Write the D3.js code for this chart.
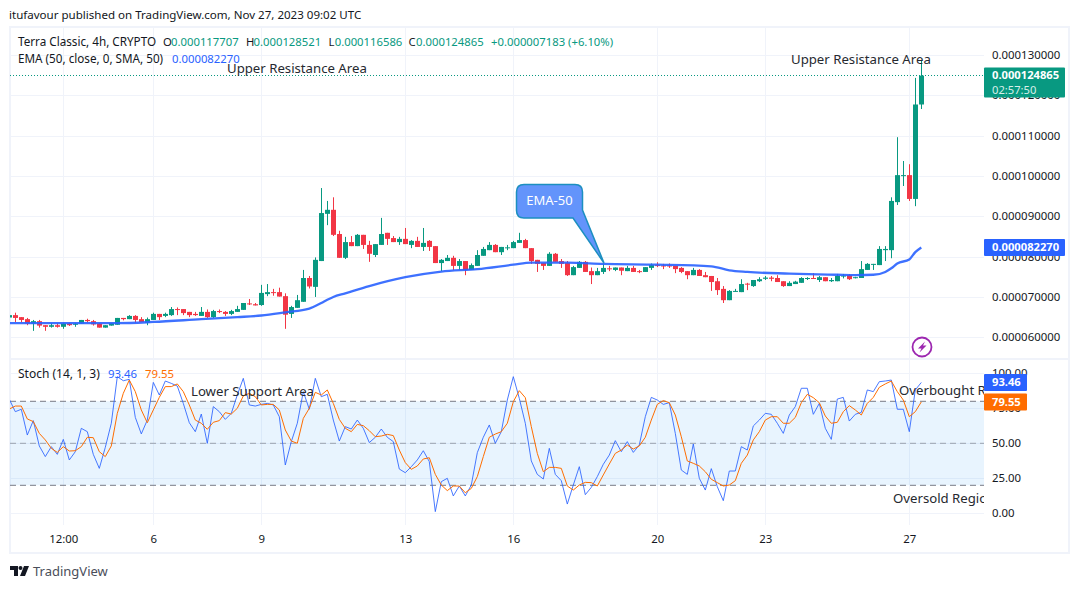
<!DOCTYPE html>
<html>
<head>
<meta charset="utf-8">
<script src="https://cdn.jsdelivr.net/npm/d3@7"></script>
<style>
  html, body { margin: 0; padding: 0; background: #fff; }
  text { font-family: "Noto Sans", sans-serif; }
</style>
</head>
<body>
<div id="chart"></div>
<script>
// prices are in millionths (64.9 = 0.000064900)
const opens = [64.9,65.5,65.0,64.5,63.4,64.0,63.0,62.6,63.0,62.6,
  63.4,63.1,63.4,64.3,64.0,63.4,62.4,62.9,63.1,64.8,
  64.5,65.3,64.5,63.6,64.3,65.8,65.3,65.5,67.0,67.0,
  66.3,65.8,65.3,66.3,65.0,66.5,66.3,65.8,66.3,66.8,
  68.4,68.2,68.0,70.7,71.2,71.2,70.2,65.8,67.3,68.8,
  74.7,72.5,78.9,90.6,91.6,85.6,79.7,83.6,82.6,85.4,
  82.9,80.4,82.9,85.9,84.6,83.6,84.4,82.9,83.9,82.4,
  83.9,82.6,78.4,78.9,79.7,77.7,78.9,76.7,77.7,80.2,
  81.6,82.9,81.1,82.1,82.1,83.4,84.1,82.1,79.2,78.4,
  77.7,80.7,78.9,78.4,75.4,77.2,78.7,76.4,75.4,76.2,
  77.1,76.7,77.3,76.4,77.2,76.4,76.2,77.2,77.9,77.8,
  77.8,77.7,77.2,76.4,75.4,76.7,75.4,75.2,73.9,72.0,
  69.2,71.3,71.2,73.3,72.7,73.9,74.5,74.8,74.7,73.9,
  72.7,73.2,73.5,74.5,74.7,74.2,74.9,73.9,73.9,75.1,
  75.4,74.7,74.7,76.7,78.0,77.9,81.6,81.6,93.5,100.0,
  100.2,94.3,117.707];
const highs = [65.5,66.1,65.0,64.8,64.3,64.3,63.0,63.5,63.5,63.6,
  63.6,63.6,64.3,64.6,64.3,63.5,63.0,63.5,64.8,64.8,
  65.5,65.5,65.0,64.9,66.1,65.8,66.1,67.5,67.4,67.0,
  66.3,66.3,67.5,66.9,66.8,66.9,66.5,66.8,67.8,68.5,
  69.5,68.5,73.0,73.2,72.0,72.3,70.9,67.8,70.5,76.7,
  75.2,79.8,97.0,93.8,94.7,86.4,84.9,85.1,85.6,85.4,
  83.9,83.1,89.6,85.9,85.1,84.9,87.1,84.1,84.9,87.1,
  84.1,82.6,79.4,80.4,80.2,79.4,78.9,78.3,81.6,82.4,
  83.6,83.1,82.4,82.9,83.9,85.9,84.4,82.1,79.2,78.4,
  81.1,80.9,79.4,78.9,77.7,78.9,78.9,77.3,77.2,78.3,
  77.7,77.3,77.3,77.7,77.7,76.7,77.4,78.3,78.6,78.2,
  78.3,77.7,77.4,76.4,77.2,76.9,76.2,75.2,74.7,72.7,
  71.7,72.0,74.4,73.5,74.2,74.9,75.2,75.2,75.4,73.9,
  73.9,74.0,74.9,74.9,75.9,75.2,74.9,74.7,75.7,75.7,
  75.7,75.0,78.9,78.4,78.2,82.6,82.6,94.7,109.6,103.7,
  102.9,124.3,128.521];
const lows = [64.9,63.8,63.7,63.0,61.6,62.4,61.6,62.4,62.4,62.1,
  62.8,62.6,63.4,63.7,62.9,62.4,62.4,62.9,63.1,64.2,
  64.5,63.6,63.8,63.0,64.3,64.3,65.0,65.3,65.5,65.5,
  65.0,65.3,65.3,64.8,64.8,66.0,65.3,65.5,66.3,66.8,
  68.0,67.9,67.8,70.2,70.3,70.1,62.1,64.8,67.3,68.8,
  72.1,70.0,78.9,87.8,85.1,79.7,79.4,82.6,82.6,81.9,
  78.7,79.9,82.9,82.9,83.6,82.9,83.1,82.1,82.4,81.4,
  81.4,78.4,76.4,78.9,76.7,76.7,75.4,76.7,77.7,80.2,
  81.6,81.1,80.4,81.6,82.1,83.4,82.1,78.2,76.2,76.7,
  77.7,78.7,77.2,75.2,75.4,77.2,76.2,73.2,75.4,75.7,
  76.4,76.4,75.4,76.4,76.2,75.9,76.2,76.7,77.4,76.9,
  77.2,75.9,75.9,74.4,75.4,75.2,74.9,71.5,70.5,68.5,
  69.2,71.3,71.2,71.7,72.5,73.7,74.2,73.9,73.7,72.5,
  72.7,73.2,73.5,74.2,74.5,73.7,73.9,73.7,73.9,74.6,
  74.2,74.6,74.7,76.7,76.7,77.9,78.9,79.6,92.8,97.5,
  93.8,92.5,116.586];
const closes = [65.5,64.8,64.3,63.4,64.0,62.9,62.6,63.0,62.6,63.4,
  63.0,63.4,64.3,64.0,63.2,62.4,63.0,63.5,64.8,64.5,
  65.3,64.3,63.8,64.5,65.8,65.0,65.8,67.0,66.8,66.0,
  65.5,65.5,66.3,65.0,66.5,66.3,65.8,66.5,67.0,68.5,
  68.2,67.9,71.0,71.2,71.0,70.1,65.6,67.5,69.2,74.7,
  72.6,79.2,90.8,91.6,85.4,79.7,83.6,82.6,85.4,82.9,
  80.7,83.1,85.6,84.4,83.6,84.4,83.1,83.9,82.4,83.4,
  82.4,78.4,79.2,79.7,77.7,78.9,76.7,77.9,80.4,81.9,
  82.9,81.1,82.4,82.3,83.6,84.1,82.1,78.9,78.2,77.7,
  80.7,78.7,78.2,75.4,77.4,78.7,76.2,75.4,76.4,77.2,
  76.9,77.3,76.5,77.2,76.2,76.3,77.4,77.9,77.7,77.6,
  77.6,76.9,76.2,75.4,76.7,75.2,74.9,73.7,71.7,69.2,
  71.5,71.5,73.2,73.1,74.2,74.4,74.8,74.5,73.7,72.7,
  73.5,73.8,74.7,74.7,74.5,74.9,73.9,74.2,75.2,75.3,
  74.4,74.9,76.9,78.2,78.2,81.9,81.9,93.8,100.2,100.2,
  94.3,117.707,124.865];

// EMA read at a handful of bars
const emaBars = [0,6,12,18,24,32,38,42,46,50,52,53,54,56,60,66,72,78,84,87,93,99,108,117,120,123,130,138,141,144,146,147,148,150,151,152];
const emaValues = [63.5,63.5,63.5,63.5,63.8,64.5,65.0,65.4,66.2,67.1,68.5,69.3,70.0,70.9,72.7,74.9,76.3,76.9,78.0,78.5,78.5,78.2,78.0,77.6,76.6,76.2,75.8,75.5,75.4,75.5,76.2,77.1,78.3,79.3,81.1,82.27];

const stochK = [81.4,72.6,74.3,55.9,66.2,48.1,40.5,47.6,42.1,52.8,
  38.1,44.0,60.7,58.3,42.1,32.1,47.1,64.3,97.6,94.7,
  95.7,68.5,56.7,66.6,93.5,84.5,94.5,92.8,90.9,78.5,
  64.7,58.3,70.9,50.0,76.2,72.6,67.1,71.4,84.5,96.4,
  77.4,76.6,77.8,78.5,77.4,69.0,34.5,51.2,64.3,86.9,
  74.3,96.4,83.3,85.0,66.6,51.6,61.9,60.2,66.6,60.7,
  50.5,54.3,60.2,54.3,51.2,31.6,29.0,33.3,38.1,44.7,
  36.9,1.2,22.6,25.0,12.4,19.5,12.4,20.2,43.3,54.3,
  63.1,50.0,58.3,80.9,97.6,82.1,64.3,37.4,27.8,24.5,
  46.4,27.8,23.3,6.6,20.2,33.3,13.3,18.5,26.2,35.0,
  41.6,51.9,44.0,51.2,43.5,48.8,69.0,82.8,80.9,77.8,
  79.0,57.1,30.9,27.8,49.5,25.0,16.6,31.9,19.0,9.0,
  30.2,30.2,47.6,45.2,62.4,66.6,71.4,70.7,64.3,57.1,
  70.2,76.2,89.3,89.3,70.7,78.5,60.7,52.8,81.6,82.8,
  65.9,70.7,72.1,88.1,86.9,94.0,94.5,95.2,74.3,74.3,
  58.3,88.1,93.46];
const stochD = [74.5,76.6,76.6,67.4,65.5,57.1,52.4,46.4,43.5,47.6,
  44.5,44.7,47.6,54.3,54.0,44.0,40.5,48.1,71.4,85.7,
  95.2,86.9,73.8,64.7,73.8,82.8,90.5,90.5,92.4,86.9,
  77.4,66.6,64.3,60.0,65.0,66.2,71.9,70.9,75.0,83.8,
  85.7,83.3,77.4,77.8,77.8,73.8,59.5,51.6,50.0,67.8,
  75.0,86.4,84.5,88.1,78.5,67.1,60.7,58.3,63.5,62.6,
  59.0,54.7,55.2,56.4,55.5,45.2,36.2,31.4,33.8,38.8,
  39.7,27.8,20.2,16.2,19.5,19.5,14.7,17.8,26.2,40.5,
  54.3,56.6,58.3,64.3,79.7,87.6,82.6,61.9,42.8,29.7,
  32.8,32.8,32.1,19.5,16.6,20.2,22.1,21.9,19.5,27.4,
  35.2,42.8,45.2,48.8,45.9,48.1,54.3,66.6,77.8,80.5,
  79.0,70.2,54.7,37.4,35.7,33.8,29.7,24.3,21.9,19.5,
  20.2,23.3,35.7,41.6,52.4,58.3,66.6,69.0,69.0,64.3,
  64.3,68.5,79.0,85.0,82.6,79.0,69.5,64.3,65.0,72.6,
  76.9,73.8,70.2,78.5,82.8,90.0,92.4,94.5,86.9,80.9,
  69.0,72.6,79.55];

const priceTicks = [60,70,80,90,100,110,120,130];
const stochTicks = [0,25,50,75,100];
const stochLevels = [80,50,20];
const timeBars = [9,24,42,66,84,108,126,150];
const timeLabels = ["12:00","6","9","13","16","20","23","27"];

const lastPrice = 124.865, lastEma = 82.27;
const green = "#089981", red = "#f23645", blue = "#2962ff", orange = "#ff6d00";
const gridColor = "#f0f3fa", textColor = "#131722";

const svg = d3.select("#chart").append("svg")
  .attr("width", 1080).attr("height", 589)
  .style("display", "block");

const plotLeft = 10, plotRight = 984, plotTop = 28, sep = 359, plotBottom = 525;

const x = d3.scaleLinear().domain([0, 152]).range([9.3, 921.3]);
const y = d3.scaleLinear().domain([60, 130]).range([337.3, 54.9]);
const yS = d3.scaleLinear().domain([0, 100]).range([513.3, 373.3]);

svg.append("defs").append("clipPath").attr("id", "plot").append("rect")
  .attr("x", plotLeft).attr("y", plotTop)
  .attr("width", plotRight - plotLeft).attr("height", plotBottom - plotTop);

// grid
const grid = svg.append("g").attr("stroke", gridColor).attr("stroke-width", 1);
grid.selectAll(".v").data(timeBars).join("line")
  .attr("x1", d => Math.round(x(d)) + 0.5).attr("x2", d => Math.round(x(d)) + 0.5)
  .attr("y1", plotTop).attr("y2", plotBottom);
grid.selectAll(".h").data(priceTicks).join("line")
  .attr("x1", plotLeft).attr("x2", plotRight)
  .attr("y1", d => Math.round(y(d)) + 0.5).attr("y2", d => Math.round(y(d)) + 0.5);
grid.selectAll(".s").data(stochTicks).join("line")
  .attr("x1", plotLeft).attr("x2", plotRight)
  .attr("y1", d => Math.round(yS(d)) + 0.5).attr("y2", d => Math.round(yS(d)) + 0.5);

// frame
svg.append("rect").attr("x", 10).attr("y", 27).attr("width", 1059).attr("height", 526)
  .attr("fill", "none").attr("stroke", gridColor).attr("stroke-width", 2);
svg.append("line").attr("x1", 10).attr("x2", 1069).attr("y1", sep).attr("y2", sep)
  .attr("stroke", gridColor).attr("stroke-width", 2);

// axes
const priceAxis = d3.axisRight(y).tickValues(priceTicks).tickSize(0).tickPadding(0)
  .tickFormat(d => (d / 1e6).toFixed(9));
const stochAxis = d3.axisRight(yS).tickValues(stochTicks).tickSize(0).tickPadding(0)
  .tickFormat(d => d.toFixed(2));
const timeAxis = d3.axisBottom(x).tickValues(timeBars).tickSize(0).tickPadding(0)
  .tickFormat((d, i) => timeLabels[i]);

[svg.append("g").attr("transform", "translate(992,0)").call(priceAxis),
 svg.append("g").attr("transform", "translate(992,-0.5)").call(stochAxis),
 svg.append("g").attr("transform", "translate(0,535)").call(timeAxis)
].forEach(g => {
  g.select(".domain").remove();
  g.selectAll("text").attr("font-size", 11.4).attr("fill", textColor)
    .style("font-family", '"Noto Sans", sans-serif');
});

const plot = svg.append("g").attr("clip-path", "url(#plot)");

// stochastic band and level lines
plot.append("rect").attr("x", plotLeft).attr("width", plotRight - plotLeft)
  .attr("y", yS(80)).attr("height", yS(20) - yS(80))
  .attr("fill", "#2196f3").attr("fill-opacity", 0.1);
plot.selectAll(".level").data(stochLevels).join("line")
  .attr("x1", plotLeft).attr("x2", plotRight)
  .attr("y1", d => yS(d)).attr("y2", d => yS(d))
  .attr("stroke", "#787b86").attr("stroke-opacity", d => d === 50 ? 0.65 : 1)
  .attr("stroke-dasharray", "6 4");

// last price line
plot.append("line").attr("x1", plotLeft).attr("x2", plotRight)
  .attr("y1", Math.floor(y(lastPrice)) + 0.5).attr("y2", Math.floor(y(lastPrice)) + 0.5)
  .attr("stroke", green).attr("stroke-dasharray", "1 2");

// candles
const bars = d3.range(opens.length);
const barColor = i => closes[i] >= opens[i] ? green : red;
plot.selectAll(".wick").data(bars).join("line")
  .attr("x1", i => Math.round(x(i)) + 0.5).attr("x2", i => Math.round(x(i)) + 0.5)
  .attr("y1", i => y(highs[i])).attr("y2", i => y(lows[i]))
  .attr("stroke", barColor);
plot.selectAll(".body").data(bars).join("rect")
  .attr("x", i => Math.round(x(i)) - 2).attr("width", 5)
  .attr("y", i => y(Math.max(opens[i], closes[i])))
  .attr("height", i => Math.max(1, Math.abs(y(opens[i]) - y(closes[i]))))
  .attr("fill", barColor);

// EMA
plot.append("path")
  .attr("d", d3.line().x(i => x(emaBars[i])).y(i => y(emaValues[i])).curve(d3.curveMonotoneX)(d3.range(emaBars.length)))
  .attr("fill", "none").attr("stroke", blue).attr("stroke-width", 2.3).attr("stroke-opacity", 0.9);

// stochastic lines
const stochLine = vals => d3.line().x(i => x(i)).y(i => yS(vals[i]))(bars);
plot.append("path").attr("d", stochLine(stochK))
  .attr("fill", "none").attr("stroke", blue).attr("stroke-opacity", 0.85).attr("stroke-width", 1);
plot.append("path").attr("d", stochLine(stochD))
  .attr("fill", "none").attr("stroke", orange).attr("stroke-width", 1);

// drawn annotations
const notes = [
  ["Upper Resistance Area", 227, 68],
  ["Upper Resistance Area", 791, 59],
  ["Lower Support Area", 191, 391],
  ["Overbought Region", 899, 390],
  ["Oversold Region", 893, 498]
];
plot.selectAll(".note").data(notes).join("text")
  .attr("x", d => d[1]).attr("y", d => d[2])
  .attr("dy", "0.35em").attr("font-size", 13.2).attr("fill", "#26292f")
  .text(d => d[0]);

// EMA-50 callout
svg.append("path")
  .attr("d", "M524,184.5 H575 Q582.5,184.5 582.5,192 V210 L604,263 L573,218 H524 Q516.5,218 516.5,210.5 V192 Q516.5,184.5 524,184.5 Z")
  .attr("fill", "#6394fb").attr("stroke", "#1c8fc0").attr("stroke-width", 1.5);
svg.append("text").attr("x", 549.5).attr("y", 200).attr("dy", "0.35em")
  .attr("text-anchor", "middle").attr("font-size", 13).attr("fill", "#fff").text("EMA-50");

// pane legends
const legendText = (tx, ty, str, fill, size) => svg.append("text")
  .attr("x", tx).attr("y", ty).attr("dy", "0.35em")
  .attr("font-size", size).attr("fill", fill).text(str);
legendText(18, 42, "Terra Classic, 4h, CRYPTO", textColor, 11.7);
[["O", 163, 171, "0.000117707"], ["H", 246, 253.5, "0.000128521"],
 ["L", 328.5, 334.7, "0.000116586"], ["C", 408.5, 416, "0.000124865"]].forEach(d => {
  legendText(d[1], 42, d[0], textColor, 11.3);
  legendText(d[2], 42, d[3], green, 11.3);
});
legendText(491, 42, "+0.000007183 (+6.10%)", green, 11.3);
legendText(18, 59, "EMA (50, close, 0, SMA, 50)", textColor, 11.7);
legendText(172, 59, "0.000082270", blue, 11.3);
legendText(18, 374, "Stoch (14, 1, 3)", textColor, 12);
legendText(108, 374, "93.46", blue, 11.4);
legendText(145, 374, "79.55", orange, 11.4);

// price tags on the axis
const tag = (ty, tw, th, fill) => svg.append("rect")
  .attr("x", 984).attr("y", ty).attr("width", tw).attr("height", th).attr("rx", 1).attr("fill", fill);
const tagText = (ty, str, weight, fill) => svg.append("text")
  .attr("x", 992).attr("y", ty).attr("dy", "0.35em")
  .attr("font-size", 11.2).attr("font-weight", weight).attr("fill", fill).text(str);
tag(67.5, 81, 30, green);
tagText(75.5, (lastPrice / 1e6).toFixed(9), 700, "#fff");
tagText(90, "02:57:50", 400, "#d8efe9");
tag(y(lastEma) - 8.5, 81, 17, blue);
tagText(y(lastEma), (lastEma / 1e6).toFixed(9), 700, "#fff");
tag(yS(93.46) - 8.5, 43, 17, blue);
tagText(yS(93.46), "93.46", 700, "#fff");
tag(yS(79.55) - 8.5, 43, 17, orange);
tagText(yS(79.55), "79.55", 700, "#fff");

// lightning badge
svg.append("circle").attr("cx", 922).attr("cy", 347).attr("r", 9.5)
  .attr("fill", "#fff").attr("stroke", "#9c27b0").attr("stroke-width", 1.8);
svg.append("path").attr("d", "M925,341.5 L918,348.5 H921.5 L919.5,352.5 L926.5,345.5 H923 Z").attr("fill", "#9c27b0");

// header and footer
svg.append("text").attr("x", 9).attr("y", 15).attr("dy", "0.35em")
  .attr("font-size", 11.55).attr("fill", textColor)
  .text("itufavour published on TradingView.com, Nov 27, 2023 09:02 UTC");
svg.append("path")
  .attr("d", "M10,566 H18 V576 H14 V570 H10 Z M24,566 H29 L25,576 H20 Z")
  .attr("fill", "#131722");
svg.append("circle").attr("cx", 20.5).attr("cy", 568).attr("r", 2).attr("fill", "#131722");
svg.append("text").attr("x", 33).attr("y", 571).attr("dy", "0.35em")
  .attr("font-size", 13).attr("fill", "#4a4e5a").text("TradingView");
</script>
</body>
</html>
